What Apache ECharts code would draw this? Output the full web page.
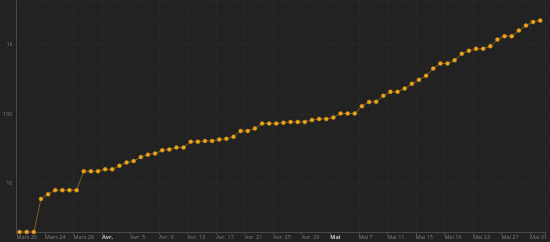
<!DOCTYPE html>
<html>
<head>
<meta charset="utf-8">
<script src="https://cdn.jsdelivr.net/npm/echarts@6/dist/echarts.min.js"></script>
<style>
html,body{margin:0;padding:0;background:#222222;}
#c{width:550px;height:242px;}
</style>
</head>
<body>
<div id="c"></div>
<script>
// ---- data ----
const startDate = '2020-03-20';
const dayCount = 74; // Mar 20 .. Jun 1
const dates = [];
for (let i = 0; i < dayCount; i++) {
  const d = new Date(Date.parse(startDate + 'T00:00:00Z') + i * 86400000);
  dates.push(d.toISOString().slice(0, 10));
}
const values = [
  2, 2, 2, 6, 7, 8, 8, 8, 8, 15, 15, 15, 16, 16, 18, 20, 21, 24, 26, 27,
  30, 31, 33, 33, 40, 40, 41, 41, 43, 44, 47, 57, 57, 62, 73, 73,
  73, 75, 77, 77, 77, 82, 85, 85, 89, 102, 102, 102, 130, 149, 150, 183,
  209, 209, 233, 273, 311, 356, 453, 535, 535, 598, 738, 815, 871, 871,
  951, 1183, 1325, 1325, 1596, 1884, 2128, 2225
];
const xTickLabels = ['Mars 20', 'Mars 24', 'Mars 28', 'Avr.', 'Avr. 5', 'Avr. 9', 'Avr. 13',
  'Avr. 17', 'Avr. 21', 'Avr. 25', 'Avr. 29', 'Mai', 'Mai 7', 'Mai 11', 'Mai 15', 'Mai 19',
  'Mai 23', 'Mai 27', 'Mai 31'];
const monthLabels = ['Avr.', 'Mai'];
const yTickLabels = { 10: '10', 100: '100', 1000: '1k' };

// ---- chart ----
const t0 = Date.parse(startDate + 'T00:00:00Z');
const sampleTime = 'T10:30:00Z';
const seriesData = dates.map((d, i) => [(Date.parse(d + sampleTime) - t0) / 86400000, values[i]]);
const tickStep = 4;

const chart = echarts.init(document.getElementById('c'), null, { renderer: 'canvas' });
chart.setOption({
  backgroundColor: '#222222',
  animation: false,
  grid: { left: 13.5, right: 2, top: 0, bottom: 10, containLabel: false },
  xAxis: {
    type: 'value',
    min: 0,
    max: 74.2,
    interval: tickStep,
    axisLine: { show: true, lineStyle: { color: '#484848', width: 1 } },
    axisTick: { show: true, length: 3, lineStyle: { color: '#484848' } },
    splitLine: { show: true, lineStyle: { color: '#313131', type: [1, 2], width: 1 } },
    axisLabel: {
      show: true,
      align: 'left',
      margin: 2,
      fontSize: 5.5,
      fontFamily: 'Open Sans',
      color: '#7c7c7c',
      formatter: function (v) {
        const idx = Math.round(v / tickStep);
        if (Math.abs(v - idx * tickStep) > 1e-6 || idx >= xTickLabels.length) return '';
        const s = xTickLabels[idx];
        return monthLabels.indexOf(s) >= 0 ? '{m|' + s + '}' : s;
      },
      rich: {
        m: { fontSize: 5.5, fontFamily: 'Open Sans', fontWeight: 'bold', color: '#c4c4c4' }
      }
    }
  },
  yAxis: {
    type: 'log',
    logBase: 10,
    min: 2,
    max: 4400,
    axisLine: { show: true, lineStyle: { color: '#484848', width: 1 } },
    axisTick: { show: false },
    splitLine: { show: true, lineStyle: { color: '#313131', type: [1, 2], width: 1 } },
    axisLabel: {
      show: true,
      margin: 4,
      fontSize: 5.5,
      fontFamily: 'Open Sans',
      color: '#7c7c7c',
      formatter: function (v) {
        const k = Math.round(v);
        return yTickLabels[k] !== undefined && Math.abs(v - k) < 1e-6 ? yTickLabels[k] : '';
      }
    }
  },
  series: [{
    type: 'line',
    data: seriesData,
    symbol: 'circle',
    symbolSize: 4,
    showAllSymbol: true,
    lineStyle: { color: '#7d6124', width: 1 },
    itemStyle: { color: '#f0a61c', borderColor: '#c08516', borderWidth: 0.5 }
  }]
});
</script>
</body>
</html>
